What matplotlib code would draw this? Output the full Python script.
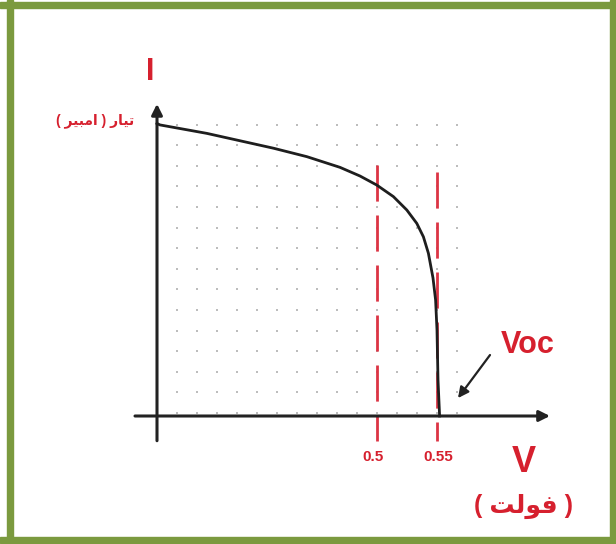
import numpy as np
import matplotlib
matplotlib.use('Agg')
import matplotlib.pyplot as plt
from matplotlib.patches import Rectangle

plt.rcParams['font.family'] = ['Liberation Sans', 'DejaVu Sans']
plt.rcParams['lines.scale_dashes'] = False

# I-V curve of a solar cell, in grid units (1 unit = one dot spacing)
curve_v = [0.0, 0.15, 2.49, 5.82, 7.49, 9.15, 10.15, 10.99, 11.82, 12.49,
           12.99, 13.32, 13.57, 13.8, 13.93, 14.0, 14.05, 14.13]
curve_i = [14.2, 14.13, 13.72, 13.0, 12.59, 12.07, 11.65, 11.21, 10.65, 10.0,
           9.35, 8.70, 7.90, 6.7, 5.63, 4.17, 1.75, 0.0]

# marked voltages: position on the sketch axis, label, top of dashed line
mark_pos = [11.0, 14.0]
mark_labels = ['0.5', '0.55']
mark_top = [12.18, 11.84]

# dot grid
dot_cols = np.arange(1, 16)
dot_rows = np.arange(15) + 0.15

# Arabic labels written in visual order with presentation forms
y_label = '( \uFEAE\uFEF4\uFE92\uFEE3\uFE8D ) \uFEAD\uFE8E\uFEF4\uFE97'
x_label = '( \uFE96\uFEDF\uFEEE\uFED3 )'

RED = '#d6202e'
DASH = '#dc3444'
AX = '#222222'
GREEN = '#7b9a3f'

W, H = 616, 544
fig = plt.figure(figsize=(W / 100, H / 100), dpi=100)
ax = fig.add_axes([0, 0, 1, 1])
ox, oy, ux, uy = 157, 416, 20.0, 20.6
ax.set_xlim(-ox / ux, (W - ox) / ux)
ax.set_ylim(-(H - oy) / uy, oy / uy)
ax.axis('off')

# frame
for x0, y0, w, h in [(7 / W, 0, 6 / W, 1), (0, 1 - 8 / H, 1, 6 / H),
                     (0, 1 / H, 1, 6 / H), (1 - 6 / W, 0, 6 / W, 1)]:
    fig.patches.append(Rectangle((x0, y0), w, h, transform=fig.transFigure,
                                 color=GREEN, zorder=0))

gx, gy = np.meshgrid(dot_cols, dot_rows)
ax.scatter(gx.ravel(), gy.ravel(), s=3, color='#bdbdbd', marker='s',
           linewidths=0, zorder=1)

# axes with arrows
ax.annotate('', xy=(0, 15.15), xytext=(0, -1.2),
            arrowprops=dict(arrowstyle='-|>', lw=2.2, color=AX,
                            mutation_scale=16, shrinkA=0, shrinkB=0), zorder=3)
ax.annotate('', xy=(19.65, 0), xytext=(-1.1, 0),
            arrowprops=dict(arrowstyle='-|>', lw=2.2, color=AX,
                            mutation_scale=16, shrinkA=0, shrinkB=0), zorder=3)

# dashed markers
for xp, lab, top in zip(mark_pos, mark_labels, mark_top):
    ax.plot([xp, xp], [top, -1.2], color=DASH, lw=2, dashes=(26, 10), zorder=2)
    ax.text(xp - 0.2 if lab == '0.5' else xp + 0.05, -2.0, lab, color=RED,
            fontsize=11, fontweight='bold', ha='center', va='center')

ax.plot(curve_v, curve_i, color='#1e1e1e', lw=2, zorder=4)

# Voc pointer
ax.annotate('', xy=(15.05, 0.87), xytext=(16.65, 2.96),
            arrowprops=dict(arrowstyle='-|>', lw=1.6, color=AX,
                            mutation_scale=16, shrinkA=0, shrinkB=0))
ax.text(18.55, 3.45, 'Voc', color=RED, fontsize=22, fontweight='bold',
        ha='center', va='center')

ax.text(-0.35, 16.7, 'I', color=RED, fontsize=22, fontweight='bold',
        ha='center', va='center')
ax.text(-3.1, 14.32, y_label, color=RED, fontsize=10, fontweight='bold',
        ha='center', va='center')
ax.text(18.35, -2.28, 'V', color=RED, fontsize=26, fontweight='bold',
        ha='center', va='center')
ax.text(18.3, -4.37, x_label, color=RED, fontsize=18, fontweight='bold',
        ha='center', va='center')

fig.savefig('out.png', dpi=100)
